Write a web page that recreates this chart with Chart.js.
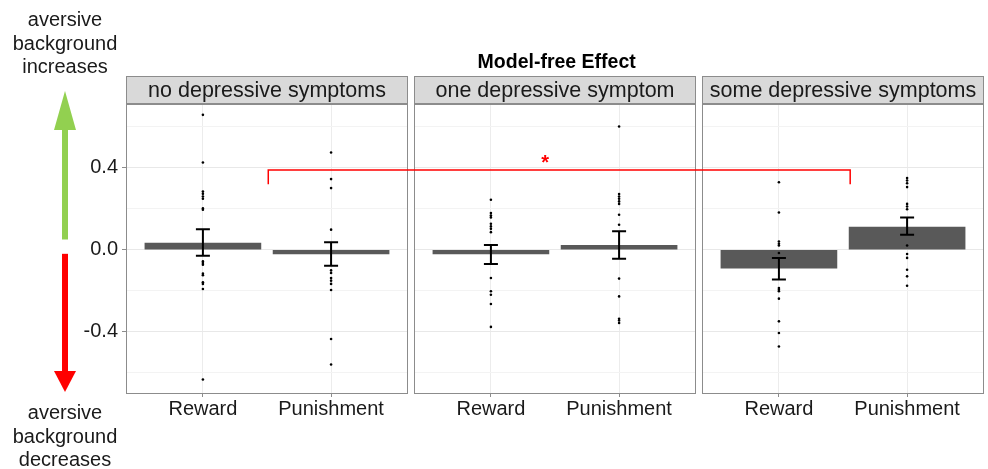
<!DOCTYPE html>
<html>
<head>
<meta charset="utf-8">
<script src="https://cdn.jsdelivr.net/npm/chart.js@4.4.1/dist/chart.umd.min.js"></script>
<style>
  html, body { margin: 0; padding: 0; background: #fff; }
  #wrap { position: relative; width: 988px; height: 469px; }
  canvas { position: absolute; left: 0; top: 0; }
</style>
</head>
<body>
<div id="wrap"><canvas id="chart" width="988" height="469"></canvas></div>
<script>
// panels and conditions
const panels = ['no depressive symptoms', 'one depressive symptom', 'some depressive symptoms'];
const conditions = ['Reward', 'Punishment'];

// x position of each bar (panel offset + category index), gap between panels is small
const panelStep = 2.247;
const xPos = [1, 2, 1 + panelStep, 2 + panelStep, 1 + 2 * panelStep, 2 + 2 * panelStep];

// means and error bar limits, order: panel1 R, panel1 P, panel2 R, panel2 P, panel3 R, panel3 P
const means = [0.033, -0.02, -0.02, 0.021, -0.09, 0.111];
const errLow = [-0.03, -0.078, -0.07, -0.044, -0.146, 0.073];
const errHigh = [0.1, 0.036, 0.023, 0.09, -0.041, 0.158];

// individual participants
const dots = [
  [0.659, 0.426, 0.284, 0.273, 0.26, 0.249, 0.202, 0.195, -0.057, -0.065, -0.073, -0.117, -0.125, -0.159, -0.167, -0.192, -0.634],
  [0.475, 0.345, 0.301, 0.098, -0.101, -0.114, -0.138, -0.151, -0.167, -0.197, -0.436, -0.561],
  [0.244, 0.179, 0.167, 0.158, 0.127, 0.114, 0.102, 0.086, -0.138, -0.203, -0.22, -0.265, -0.377],
  [0.602, 0.272, 0.26, 0.249, 0.236, 0.224, 0.171, 0.122, -0.141, -0.228, -0.337, -0.346, -0.358],
  [0.33, 0.182, 0.04, 0.029, 0.021, -0.016, -0.187, -0.195, -0.203, -0.239, -0.35, -0.407, -0.473],
  [0.35, 0.338, 0.325, 0.306, 0.224, 0.211, 0.198, 0.021, -0.021, -0.04, -0.098, -0.13, -0.176]
];

// significance bracket between panel 1 and panel 3
const bracketX = [1.51, 6.05];
const bracketY = [0.32, 0.39];
const starPos = { x: 3.67, y: 0.44 };

const yMin = -0.70, yMax = 0.712;
const xMin = 0.4, xMax = 2.6 + 2 * panelStep;

const barData = xPos.map((x, i) => ({ x: x, y: means[i] }));
const dotData = [];
dots.forEach((list, i) => list.forEach(v => dotData.push({ x: xPos[i], y: v })));
const bracketData = [
  { x: bracketX[0], y: bracketY[0] }, { x: bracketX[0], y: bracketY[1] },
  { x: bracketX[1], y: bracketY[1] }, { x: bracketX[1], y: bracketY[0] }
];

const FONT = 'Liberation Sans, Arial, sans-serif';

const facetPlugin = {
  id: 'facets',
  beforeDatasetsDraw(chart) {
    const ctx = chart.ctx;
    const xs = chart.scales.x;
    const ys = chart.scales.y;
    const top = chart.chartArea.top, bottom = chart.chartArea.bottom;
    ctx.save();
    // blank out the gaps between panels
    for (let p = 0; p < 2; p++) {
      const a = xs.getPixelForValue(2.6 + p * panelStep);
      const b = xs.getPixelForValue(0.4 + (p + 1) * panelStep);
      ctx.fillStyle = '#fff';
      ctx.fillRect(a, top - 1, b - a, bottom - top + 6);
    }
    for (let p = 0; p < 3; p++) {
      const l = Math.round(xs.getPixelForValue(0.4 + p * panelStep));
      const r = Math.round(xs.getPixelForValue(2.6 + p * panelStep));
      // panel border
      ctx.strokeStyle = '#8c8c8c';
      ctx.lineWidth = 1;
      ctx.strokeRect(l + 0.5, top + 0.5, r - l - 1, bottom - top);
      // strip
      ctx.fillStyle = '#d9d9d9';
      ctx.fillRect(l + 0.5, 76.5, r - l - 1, 27);
      ctx.strokeRect(l + 0.5, 76.5, r - l - 1, 27);
      ctx.fillStyle = '#1a1a1a';
      ctx.font = '21.5px ' + FONT;
      ctx.textAlign = 'center';
      ctx.textBaseline = 'middle';
      ctx.fillText(panels[p], (l + r) / 2, 91);
    }
    // title
    ctx.font = 'bold 19.5px ' + FONT;
    ctx.fillStyle = '#000';
    ctx.fillText('Model-free Effect', xs.getPixelForValue(3.76), 63);

    // left annotation arrows
    const ax = 65;
    const g0 = ys.getPixelForValue(0.05), g1 = ys.getPixelForValue(yMax);
    ctx.fillStyle = '#92d050';
    ctx.fillRect(ax - 3, g1 + 25, 6, g0 - g1 - 25);
    ctx.beginPath();
    ctx.moveTo(ax, g1 - 13); ctx.lineTo(ax - 11, g1 + 26); ctx.lineTo(ax + 11, g1 + 26); ctx.closePath();
    ctx.fill();
    const r0 = ys.getPixelForValue(-0.02), r1 = ys.getPixelForValue(yMin);
    ctx.fillStyle = '#ff0000';
    ctx.fillRect(ax - 3, r0, 6, r1 - r0 - 20);
    ctx.beginPath();
    ctx.moveTo(ax, r1 - 1); ctx.lineTo(ax - 11, r1 - 22); ctx.lineTo(ax + 11, r1 - 22); ctx.closePath();
    ctx.fill();

    ctx.fillStyle = '#1a1a1a';
    ctx.font = '20px ' + FONT;
    ctx.fillText('aversive', ax, 20);
    ctx.fillText('background', ax, 44);
    ctx.fillText('increases', ax, 67);
    ctx.fillText('aversive', ax, 413);
    ctx.fillText('background', ax, 437);
    ctx.fillText('decreases', ax, 460);
    ctx.restore();
  },
  afterDatasetsDraw(chart) {
    const ctx = chart.ctx;
    const xs = chart.scales.x;
    const ys = chart.scales.y;
    ctx.save();
    // error bars
    ctx.strokeStyle = '#000';
    ctx.lineWidth = 2;
    xPos.forEach((x, i) => {
      const px = xs.getPixelForValue(x);
      const lo = ys.getPixelForValue(errLow[i]);
      const hi = ys.getPixelForValue(errHigh[i]);
      ctx.beginPath();
      ctx.moveTo(px, lo); ctx.lineTo(px, hi);
      ctx.moveTo(px - 7, lo); ctx.lineTo(px + 7, lo);
      ctx.moveTo(px - 7, hi); ctx.lineTo(px + 7, hi);
      ctx.stroke();
    });
    // star
    ctx.fillStyle = '#ff0000';
    ctx.font = 'bold 20px ' + FONT;
    ctx.textAlign = 'center';
    ctx.textBaseline = 'middle';
    ctx.fillText('*', xs.getPixelForValue(starPos.x), ys.getPixelForValue(starPos.y) + 4);
    ctx.restore();
  }
};

new Chart(document.getElementById('chart'), {
  type: 'bar',
  data: {
    datasets: [
      {
        type: 'line',
        data: bracketData,
        borderColor: '#ff0000',
        borderWidth: 1.5,
        pointRadius: 0,
        fill: false,
        tension: 0,
        order: 0
      },
      {
        type: 'scatter',
        data: dotData,
        pointRadius: 1.3,
        pointBackgroundColor: '#000',
        pointBorderWidth: 0,
        order: 2
      },
      {
        data: barData,
        backgroundColor: '#595959',
        borderColor: '#595959',
        borderWidth: 0,
        barThickness: 116,
        order: 3
      }
    ]
  },
  options: {
    responsive: false,
    animation: false,
    layout: { padding: { left: 80, right: 1, top: 104, bottom: 36 } },
    plugins: {
      legend: { display: false },
      tooltip: { enabled: false }
    },
    scales: {
      x: {
        type: 'linear',
        min: xMin,
        max: xMax,
        offset: false,
        afterBuildTicks: s => { s.ticks = xPos.map(v => ({ value: v })); },
        afterFit: s => { s.height = 40; },
        ticks: {
          callback: (v, i) => conditions[i % 2],
          font: { family: FONT, size: 20 },
          color: '#1a1a1a',
          padding: 0,
          maxRotation: 0,
          autoSkip: false
        },
        grid: { color: '#ececec', offset: false, tickLength: 4, tickColor: '#8c8c8c', drawOnChartArea: true },
        border: { display: false }
      },
      y: {
        min: yMin,
        max: yMax,
        afterFit: s => { s.width = 46; },
        ticks: {
          stepSize: 0.2,
          includeBounds: false,
          callback: v => {
            if (Math.abs(v - 0.4) < 1e-6) return '0.4';
            if (Math.abs(v) < 1e-6) return '0.0';
            if (Math.abs(v + 0.4) < 1e-6) return '-0.4';
            return '';
          },
          font: { family: FONT, size: 20 },
          color: '#1a1a1a',
          padding: 4
        },
        grid: {
          color: ctx => {
            const v = ctx.tick ? ctx.tick.value : 0;
            return Math.abs(Math.round(v * 10) % 4) === 0 ? '#e8e8e8' : '#f3f3f3';
          },
          tickLength: 4,
          tickColor: ctx => {
            const v = ctx.tick ? ctx.tick.value : 0;
            return Math.abs(Math.round(v * 10) % 4) === 0 ? '#8c8c8c' : 'rgba(0,0,0,0)';
          }
        },
        border: { display: false }
      }
    }
  },
  plugins: [facetPlugin]
});
</script>
</body>
</html>
